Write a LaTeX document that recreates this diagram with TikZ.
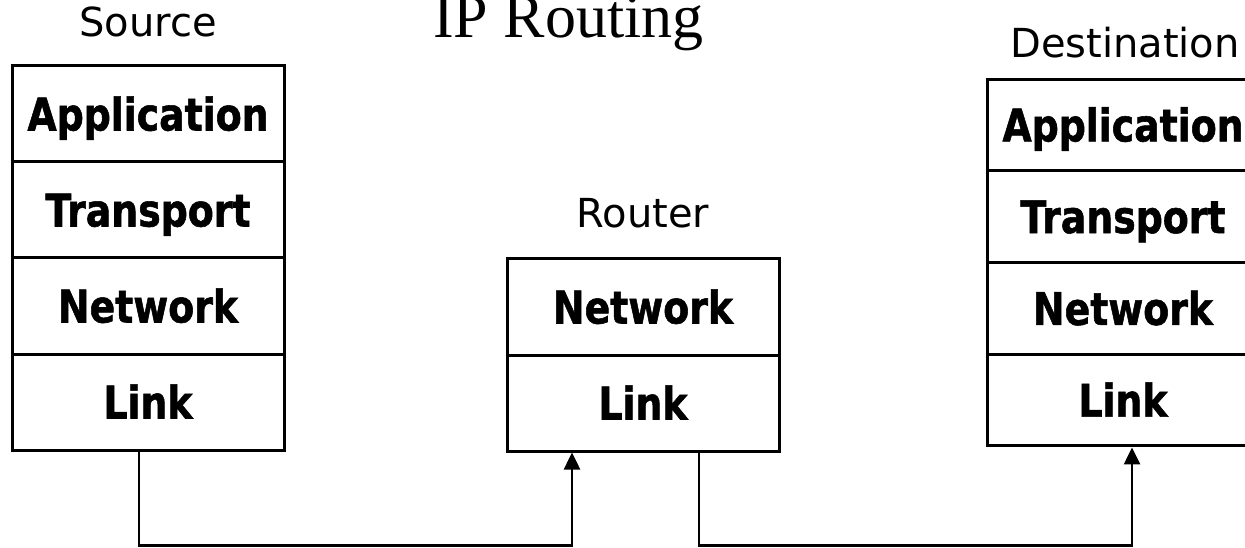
\documentclass[tikz,border=0pt]{standalone}
\usepackage{fontspec}
\setmainfont{DejaVu Sans}
\newfontfamily\labfont{DejaVu Sans}
\newfontfamily\layfont[FakeStretch=0.84,FakeBold=1.2]{DejaVu Sans}
\newfontfamily\titlefont{Liberation Serif}
\usetikzlibrary{arrows.meta}
\begin{document}
\begin{tikzpicture}[x=1pt,y=1pt,
  layer/.style={draw, line width=3pt, minimum width=272pt, inner sep=0pt,
    text height=33pt, text depth=0pt,
    font=\layfont\bfseries\fontsize{45}{50}\selectfont},
  lab/.style={inner sep=0pt, anchor=base, font=\labfont\fontsize{40}{46}\selectfont},
  conn/.style={line width=2.5pt, -{Triangle[length=17pt,width=16pt]}}]
\useasboundingbox (0,0) rectangle (1245,547);
% title
\node[anchor=base west, inner sep=0pt, font=\titlefont\fontsize{62}{70}\selectfont] (title) at (433,509) {IP Routing};
% source
\node[lab] (srcl) at (148,510) {Source};
\node[layer, minimum height=96pt] (sapp) at (148,433) {Application};
\node[layer, minimum height=96pt] (strans) at (148,337) {Transport};
\node[layer, minimum height=96pt] (snet) at (148,241) {Network};
\node[layer, minimum height=96pt] (slink) at (148,145) {Link};
% router
\node[lab] (rtl) at (643,319) {Router};
\node[layer, minimum height=96pt] (rnet) at (643,240) {Network};
\node[layer, minimum height=96pt] (rlink) at (643,144) {Link};
% destination
\node[lab] (dstl) at (1125,489) {Destination};
\node[layer, minimum height=91.75pt] (dapp) at (1123,422.1) {Application};
\node[layer, minimum height=91.75pt] (dtrans) at (1123,330.4) {Transport};
\node[layer, minimum height=91.75pt] (dnet) at (1123,238.6) {Network};
\node[layer, minimum height=91.75pt] (dlink) at (1123,146.9) {Link};
% connectors
\coordinate (b1) at (139,1.3);
\coordinate (b2) at (572,1.3);
\coordinate (b3) at (699,1.3);
\coordinate (b4) at (1132,1.3);
\draw[conn] (slink.south -| b1) |- (b2) -- (rlink.south -| b2);
\draw[conn] (rlink.south -| b3) |- (b4) -- (dlink.south -| b4);
\end{tikzpicture}
\end{document}
